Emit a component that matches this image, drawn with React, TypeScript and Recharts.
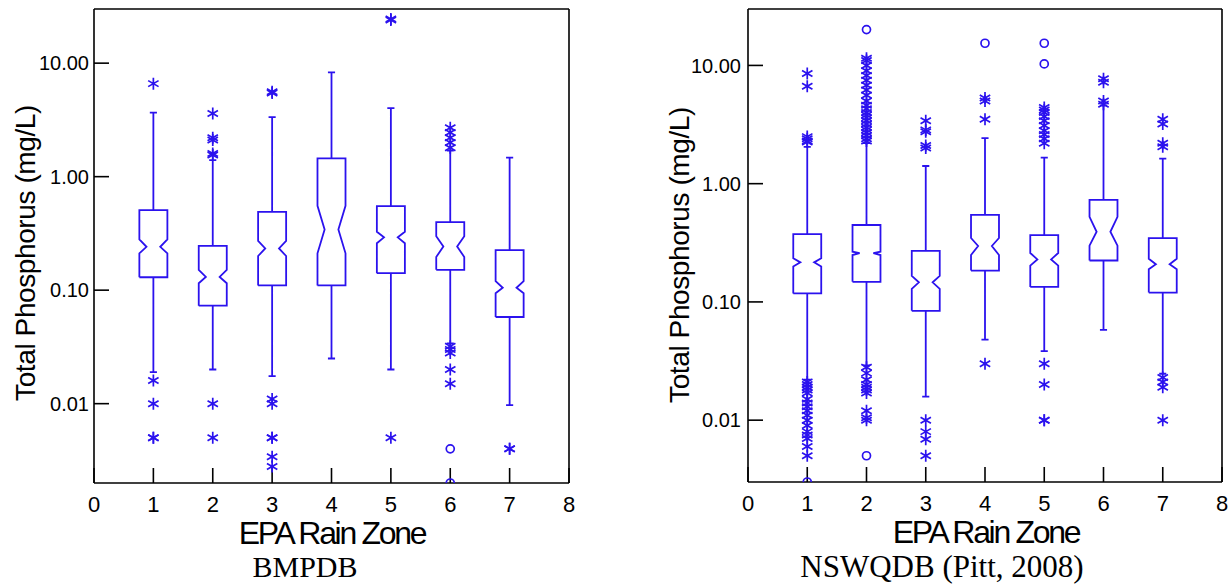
import React from 'react';
import { ComposedChart, Line, Scatter, XAxis, YAxis } from 'recharts';

const BLUE = '#2b12ee';
const SANS = '"Liberation Sans", Arial, sans-serif';
const SERIF = '"Liberation Serif", "Times New Roman", serif';

// categories / ticks
const zones = [1, 2, 3, 4, 5, 6, 7];
const xTicks = [0, 1, 2, 3, 4, 5, 6, 7, 8];
const innerXTicks = [1, 2, 3, 4, 5, 6, 7];
const yTicks = [0.01, 0.1, 1, 10];

// BMPDB box statistics (mg/L), zones 1..7
const bmpLow = [0.019, 0.02, 0.0175, 0.025, 0.02, 0.034, 0.0097];
const bmpQ1 = [0.13, 0.073, 0.11, 0.11, 0.141, 0.151, 0.058];
const bmpNotchLo = [0.211, 0.115, 0.2, 0.211, 0.259, 0.196, 0.094];
const bmpMedian = [0.241, 0.131, 0.233, 0.343, 0.292, 0.243, 0.105];
const bmpNotchHi = [0.28, 0.151, 0.272, 0.553, 0.327, 0.298, 0.12];
const bmpQ3 = [0.507, 0.246, 0.49, 1.45, 0.55, 0.398, 0.225];
const bmpHigh = [3.66, 1.4, 3.35, 8.3, 4.02, 1.7, 1.47];
// outliers per zone
const bmpStars = [
  [6.6, 0.016, 0.01, 0.005, 0.005],
  [3.6, 2.2, 2.1, 1.6, 1.55, 0.01, 0.005],
  [5.6, 5.45, 0.011, 0.01, 0.005, 0.005, 0.0034, 0.0028],
  [],
  [24.5, 24.0, 0.005],
  [2.7, 2.45, 2.2, 2.0, 1.8, 0.032, 0.03, 0.028, 0.02, 0.015],
  [0.004, 0.004],
];
const bmpCircles = [[], [], [], [], [], [0.004, 0.002], []];

// NSWQDB box statistics (mg/L), zones 1..7
const nswLow = [0.022, 0.029, 0.0158, 0.048, 0.0383, 0.058, 0.0247];
const nswQ1 = [0.118, 0.148, 0.084, 0.184, 0.134, 0.224, 0.12];
const nswNotchLo = [0.199, 0.249, 0.129, 0.249, 0.203, 0.299, 0.189];
const nswMedian = [0.216, 0.258, 0.1465, 0.297, 0.229, 0.392, 0.208];
const nswNotchHi = [0.234, 0.266, 0.166, 0.347, 0.259, 0.524, 0.232];
const nswQ3 = [0.375, 0.447, 0.27, 0.545, 0.367, 0.73, 0.347];
const nswHigh = [2.05, 2.2, 1.41, 2.43, 1.66, 4.6, 1.63];
const nswStars = [
  [8.55, 6.68, 2.5, 2.4, 2.3, 2.25, 0.021, 0.02, 0.019, 0.018, 0.017, 0.015, 0.014, 0.013, 0.012, 0.011, 0.01, 0.009, 0.008, 0.0075, 0.007, 0.006, 0.005],
  [11.5, 11, 10, 9, 8.2, 7.5, 6.8, 6.2, 5.6, 5, 4.6, 4.3, 4, 3.8, 3.6, 3.4, 3.2, 3, 2.85, 2.7, 2.55, 2.4, 2.3, 0.028, 0.025, 0.022, 0.02, 0.019, 0.018, 0.017, 0.012, 0.0105, 0.01],
  [3.4, 2.85, 2.75, 2.1, 2.0, 0.01, 0.008, 0.0069, 0.005],
  [5.3, 5.0, 3.5, 0.03],
  [4.4, 4.2, 4.0, 3.7, 3.4, 3.1, 2.8, 2.6, 2.4, 2.2, 0.03, 0.02, 0.01, 0.01],
  [7.7, 7.2, 5.0, 4.7],
  [3.5, 3.2, 2.2, 2.05, 0.023, 0.021, 0.019, 0.01],
];
const nswCircles = [[0.003], [20.1, 0.005], [], [15.4], [15.4, 10.3], [], []];

// box drawing sizes in x-axis units
const HALF = 0.236;
const NOTCH = 0.12;
const CAP = 0.06;

type Pt = { x: number; y: number | null };

function boxPath(low: number[], q1: number[], nlo: number[], med: number[], nhi: number[], q3: number[], high: number[]) {
  const pts: Pt[] = [];
  zones.forEach((x, i) => {
    const l = x - HALF, r = x + HALF;
    pts.push(
      { x: l, y: q1[i] }, { x: l, y: nlo[i] }, { x: l + NOTCH, y: med[i] }, { x: l, y: nhi[i] }, { x: l, y: q3[i] },
      { x: r, y: q3[i] }, { x: r, y: nhi[i] }, { x: r - NOTCH, y: med[i] }, { x: r, y: nlo[i] }, { x: r, y: q1[i] },
      { x: l, y: q1[i] }, { x, y: null },
      { x, y: q3[i] }, { x, y: high[i] }, { x: x - CAP, y: high[i] }, { x: x + CAP, y: high[i] }, { x, y: null },
      { x, y: q1[i] }, { x, y: low[i] }, { x: x - CAP, y: low[i] }, { x: x + CAP, y: low[i] }, { x, y: null },
    );
  });
  return pts;
}

function points(list: number[][]) {
  const pts: { x: number; y: number }[] = [];
  list.forEach((vals, i) => vals.forEach((v) => pts.push({ x: zones[i], y: v })));
  return pts;
}

const Asterisk = (p: any) => {
  const { cx, cy } = p;
  if (cx == null || cy == null) return <g />;
  const r = 6;
  const dx = r * Math.cos(Math.PI / 6);
  const dy = r * Math.sin(Math.PI / 6);
  return (
    <path
      d={`M${cx},${cy - r}L${cx},${cy + r}M${cx - dx},${cy - dy}L${cx + dx},${cy + dy}M${cx - dx},${cy + dy}L${cx + dx},${cy - dy}`}
      stroke={BLUE}
      strokeWidth={1.7}
      fill="none"
    />
  );
};

const Ring = (p: any) => {
  const { cx, cy } = p;
  if (cx == null || cy == null) return <g />;
  return <circle cx={cx} cy={cy} r={4} stroke={BLUE} strokeWidth={1.7} fill="none" />;
};

interface PanelProps {
  margin: { top: number; right: number; bottom: number; left: number };
  yWidth: number;
  yLabelGap: number;
  yMin: number;
  box: Pt[];
  stars: { x: number; y: number }[];
  circles: { x: number; y: number }[];
}

const axisStroke = { stroke: '#000', strokeWidth: 1.6 };

function Panel({ margin, yWidth, yLabelGap, yMin, box, stars, circles }: PanelProps) {
  return (
    <ComposedChart width={616} height={585} margin={margin}>
      <XAxis
        xAxisId="b"
        type="number"
        dataKey="x"
        domain={[0, 8]}
        ticks={xTicks}
        interval={0}
        allowDataOverflow
        height={40}
        tickSize={-15}
        tickMargin={28}
        axisLine={axisStroke}
        tickLine={axisStroke}
        tick={{ fill: '#000', fontSize: 22, fontFamily: SANS }}
      />
      <XAxis
        xAxisId="t"
        orientation="top"
        type="number"
        dataKey="x"
        domain={[0, 8]}
        ticks={innerXTicks}
        interval={0}
        allowDataOverflow
        height={1}
        tickSize={-15}
        tick={false}
        axisLine={axisStroke}
        tickLine={axisStroke}
      />
      <YAxis
        yAxisId="l"
        type="number"
        dataKey="y"
        scale="log"
        domain={[yMin, 30]}
        ticks={yTicks}
        interval={0}
        allowDataOverflow
        width={yWidth}
        tickSize={-15}
        tickMargin={15 + yLabelGap}
        tickFormatter={(v: number) => v.toFixed(2)}
        axisLine={axisStroke}
        tickLine={axisStroke}
        tick={{ fill: '#000', fontSize: 20, fontFamily: SANS }}
      />
      <YAxis
        yAxisId="r"
        orientation="right"
        type="number"
        dataKey="y"
        scale="log"
        domain={[yMin, 30]}
        ticks={yTicks}
        interval={0}
        allowDataOverflow
        width={1}
        tickSize={-15}
        tick={false}
        axisLine={axisStroke}
        tickLine={axisStroke}
      />
      <Line
        xAxisId="b"
        yAxisId="l"
        data={box}
        dataKey="y"
        type="linear"
        stroke={BLUE}
        strokeWidth={1.8}
        dot={false}
        activeDot={false}
        connectNulls={false}
        isAnimationActive={false}
      />
      <Scatter xAxisId="b" yAxisId="l" data={stars} dataKey="y" shape={Asterisk} isAnimationActive={false} />
      <Scatter xAxisId="b" yAxisId="l" data={circles} dataKey="y" shape={Ring} isAnimationActive={false} />
    </ComposedChart>
  );
}

export default function App() {
  const bmpBox = boxPath(bmpLow, bmpQ1, bmpNotchLo, bmpMedian, bmpNotchHi, bmpQ3, bmpHigh);
  const nswBox = boxPath(nswLow, nswQ1, nswNotchLo, nswMedian, nswNotchHi, nswQ3, nswHigh);
  return (
    <div style={{ position: 'absolute', left: 0, top: 0, width: 1232, height: 585, background: '#fff' }}>
      <div style={{ position: 'absolute', left: 0, top: 0 }}>
        <Panel
          margin={{ top: 8, right: 46, bottom: 62, left: 0 }}
          yWidth={94}
          yLabelGap={5}
          yMin={0.002}
          box={bmpBox}
          stars={points(bmpStars)}
          circles={points(bmpCircles)}
        />
      </div>
      <div style={{ position: 'absolute', left: 616, top: 0 }}>
        <Panel
          margin={{ top: 8, right: 9, bottom: 63, left: 0 }}
          yWidth={132}
          yLabelGap={7}
          yMin={0.003}
          box={nswBox}
          stars={points(nswStars)}
          circles={points(nswCircles)}
        />
      </div>
      <svg width={1232} height={585} style={{ position: 'absolute', left: 0, top: 0, pointerEvents: 'none' }}>
        <g fontFamily={SANS} fill="#000">
          <text x={35} y={253} fontSize={28} letterSpacing={-0.4} textAnchor="middle" transform="rotate(-90, 35, 253)">
            Total Phosphorus (mg/L)
          </text>
          <text x={689} y={255} fontSize={28} letterSpacing={-0.4} textAnchor="middle" transform="rotate(-90, 689, 255)">
            Total Phosphorus (mg/L)
          </text>
          <text x={332} y={544} fontSize={32} letterSpacing={-2.3} textAnchor="middle">EPA Rain Zone</text>
          <text x={986} y={543} fontSize={32} letterSpacing={-2.3} textAnchor="middle">EPA Rain Zone</text>
        </g>
        <g fontFamily={SERIF} fill="#000" fontSize={30}>
          <text x={305} y={577} textAnchor="middle">BMPDB</text>
          <text x={942} y={577} fontSize={31} textAnchor="middle">NSWQDB (Pitt, 2008)</text>
        </g>
      </svg>
    </div>
  );
}
